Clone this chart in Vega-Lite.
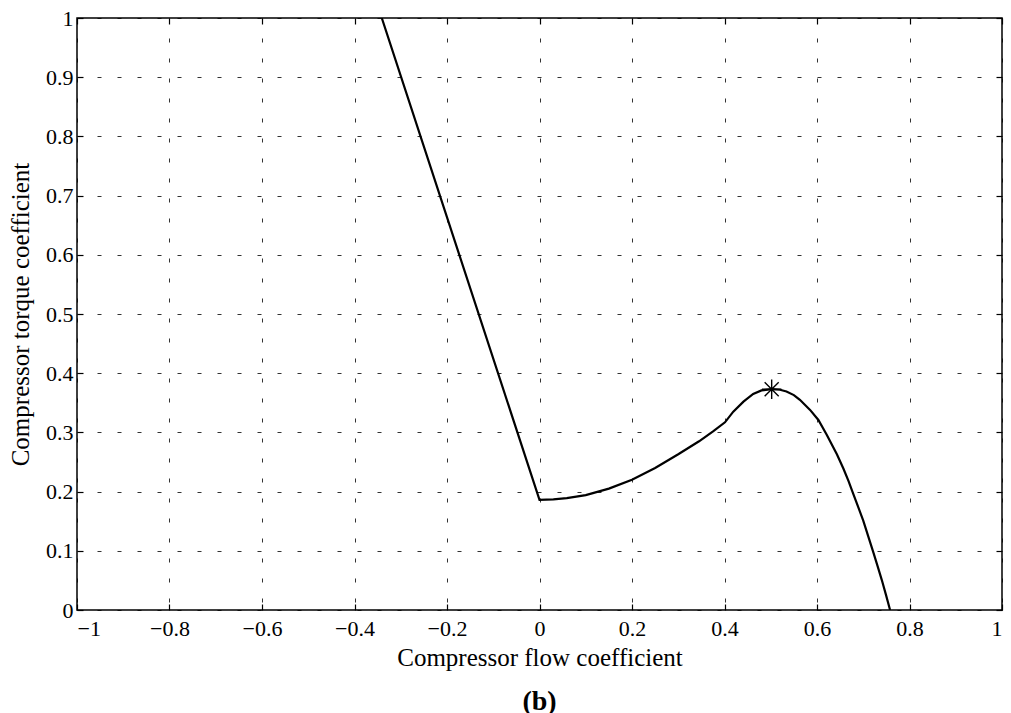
{
  "$schema": "https://vega.github.io/schema/vega-lite/v6.json",
  "width": 925,
  "height": 592,
  "autosize": {"type": "none"},
  "padding": {"left": 77, "top": 18, "right": 9, "bottom": 103},
  "background": "white",
  "title": {"text": "(b)", "orient": "bottom", "font": "Liberation Serif", "fontSize": 28, "fontWeight": "bold", "color": "black", "offset": 18, "anchor": "middle"},
  "config": {
    "view": {"stroke": "black", "strokeWidth": 1.5},
    "axis": {
      "domain": false,
      "grid": true,
      "gridColor": "black",
      "gridDash": [4, 16],
      "gridWidth": 1,
      "gridOpacity": 0.8,
      "tickColor": "black",
      "tickSize": -6,
      "tickWidth": 1.2,
      "labelFont": "Liberation Serif",
      "labelFontSize": 22,
      "labelColor": "black",
      "titleFont": "Liberation Serif",
      "titleFontSize": 25,
      "titleFontWeight": "normal",
      "titleColor": "black"
    }
  },
  "datasets": {
    "curve": [
      {"flow": -0.341, "torque": 1.0},
      {"flow": 0.0, "torque": 0.186},
      {"flow": 0.03, "torque": 0.187},
      {"flow": 0.059, "torque": 0.189},
      {"flow": 0.1, "torque": 0.194},
      {"flow": 0.15, "torque": 0.205},
      {"flow": 0.2, "torque": 0.22},
      {"flow": 0.25, "torque": 0.24},
      {"flow": 0.3, "torque": 0.263},
      {"flow": 0.345, "torque": 0.285},
      {"flow": 0.376, "torque": 0.302},
      {"flow": 0.401, "torque": 0.317},
      {"flow": 0.419, "torque": 0.335},
      {"flow": 0.441, "torque": 0.352},
      {"flow": 0.462, "torque": 0.365},
      {"flow": 0.48, "torque": 0.371},
      {"flow": 0.502, "torque": 0.373},
      {"flow": 0.52, "torque": 0.372},
      {"flow": 0.534, "torque": 0.369},
      {"flow": 0.55, "torque": 0.363},
      {"flow": 0.563, "torque": 0.355},
      {"flow": 0.585, "torque": 0.338},
      {"flow": 0.603, "torque": 0.321},
      {"flow": 0.621, "torque": 0.296},
      {"flow": 0.643, "torque": 0.263},
      {"flow": 0.657, "torque": 0.239},
      {"flow": 0.668, "torque": 0.218},
      {"flow": 0.678, "torque": 0.197},
      {"flow": 0.69, "torque": 0.172},
      {"flow": 0.7, "torque": 0.151},
      {"flow": 0.711, "torque": 0.124},
      {"flow": 0.722, "torque": 0.097},
      {"flow": 0.731, "torque": 0.074},
      {"flow": 0.74, "torque": 0.051},
      {"flow": 0.749, "torque": 0.026},
      {"flow": 0.758, "torque": 0.0}
    ],
    "peak": [
      {"flow": 0.502, "torque": 0.373}
    ]
  },
  "layer": [
    {
      "data": {"name": "curve"},
      "mark": {"type": "line", "color": "black", "strokeWidth": 2.2, "clip": true},
      "encoding": {
        "x": {"field": "flow", "type": "quantitative", "scale": {"domain": [-1, 1], "nice": false, "zero": false},
              "axis": {"orient": "bottom", "values": [-1, -0.8, -0.6, -0.4, -0.2, 0, 0.2, 0.4, 0.6, 0.8, 1], "format": ".1~f", "labelFont": "Liberation Serif", "labelFontSize": 22, "labelPadding": 14, "title": "Compressor flow coefficient", "titlePadding": 6}},
        "y": {"field": "torque", "type": "quantitative", "scale": {"domain": [0, 1], "nice": false},
              "axis": {"orient": "left", "values": [0, 0.1, 0.2, 0.3, 0.4, 0.5, 0.6, 0.7, 0.8, 0.9, 1], "format": ".1~f", "labelFont": "Liberation Serif", "labelFontSize": 22, "labelPadding": 10, "title": "Compressor torque coefficient", "titlePadding": 12}},
        "order": {"field": "flow", "type": "quantitative"}
      }
    },
    {
      "data": {"name": "peak"},
      "mark": {"type": "point", "shape": "M-1,0L1,0M0,-1L0,1M-0.72,-0.72L0.72,0.72M-0.72,0.72L0.72,-0.72", "size": 380, "stroke": "black", "strokeWidth": 1.4, "filled": false, "opacity": 1},
      "encoding": {
        "x": {"field": "flow", "type": "quantitative", "scale": {"domain": [-1, 1], "nice": false, "zero": false},
              "axis": {"orient": "top", "values": [-1, -0.8, -0.6, -0.4, -0.2, 0, 0.2, 0.4, 0.6, 0.8, 1], "labels": false, "grid": false, "title": null}},
        "y": {"field": "torque", "type": "quantitative", "scale": {"domain": [0, 1], "nice": false},
              "axis": {"orient": "right", "values": [0, 0.1, 0.2, 0.3, 0.4, 0.5, 0.6, 0.7, 0.8, 0.9, 1], "labels": false, "grid": false, "title": null}}
      }
    }
  ],
  "resolve": {"axis": {"x": "independent", "y": "independent"}}
}
